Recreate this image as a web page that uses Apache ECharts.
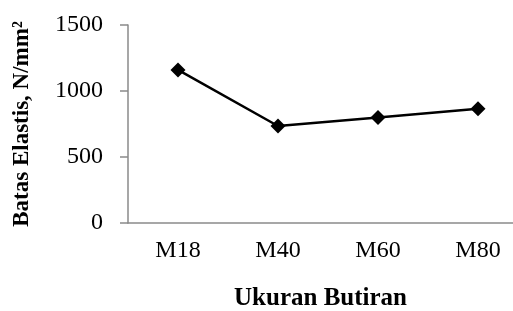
<!DOCTYPE html>
<html>
<head>
<meta charset="utf-8">
<script src="https://cdn.jsdelivr.net/npm/echarts@6/dist/echarts.min.js"></script>
<style>
  html, body { margin: 0; padding: 0; background: #fff; }
  #chart { width: 513px; height: 311px; }
</style>
</head>
<body>
<div id="chart"></div>
<script>
// ukuran butiran vs batas elastis
const categories = ['M18', 'M40', 'M60', 'M80']
const elasticLimit = [1160, 735, 800, 865]
const yTicks = { min: 0, max: 1500, interval: 500 }

const serif = '"Liberation Serif", "Times New Roman", serif'
const axisGray = '#8a8a8a'

const chart = echarts.init(document.getElementById('chart'), null, { renderer: 'canvas' })

chart.setOption({
  animation: false,
  grid: { left: 128, top: 25, width: 400, bottom: 88, outerBoundsMode: 'none' },
  xAxis: {
    type: 'category',
    data: categories,
    boundaryGap: true,
    name: 'Ukuran Butiran',
    nameLocation: 'middle',
    nameGap: 63,
    nameTextStyle: { fontFamily: serif, fontSize: 25, fontWeight: 'bold', color: '#000', padding: [0, 0, 0, -15] },
    axisLine: { lineStyle: { color: axisGray, width: 1.5 } },
    axisTick: { show: false },
    axisLabel: { fontFamily: serif, fontSize: 24, color: '#000', margin: 16 },
    splitLine: { show: false }
  },
  yAxis: {
    type: 'value',
    min: yTicks.min,
    max: yTicks.max,
    interval: yTicks.interval,
    name: 'Batas Elastis, N/mm²',
    nameLocation: 'middle',
    nameGap: 94,
    nameTextStyle: { fontFamily: serif, fontSize: 23, fontWeight: 'bold', color: '#000' },
    axisLine: { show: true, lineStyle: { color: axisGray, width: 1.5 } },
    axisTick: { show: true, length: 8, lineStyle: { color: axisGray, width: 1.5 } },
    axisLabel: { fontFamily: serif, fontSize: 24, color: '#000', margin: 25, formatter: (v) => String(v) },
    splitLine: { show: false }
  },
  series: [
    {
      type: 'line',
      data: elasticLimit,
      symbol: 'diamond',
      symbolSize: 15,
      lineStyle: { color: '#000', width: 2.5 },
      itemStyle: { color: '#000' }
    }
  ]
})
</script>
</body>
</html>
